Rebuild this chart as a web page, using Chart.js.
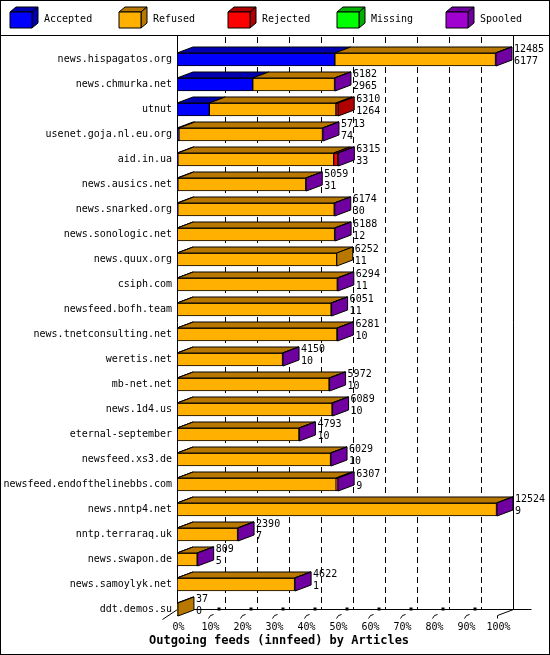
<!DOCTYPE html>
<html><head><meta charset="utf-8">
<script src="https://cdn.jsdelivr.net/npm/chart.js@4"></script>
<style>body{margin:0;background:#fff}#wrap{width:550px;height:655px}</style>
</head><body><div id="wrap"><canvas id="c" width="550" height="655"></canvas></div>
<script>
const feeds = ['news.hispagatos.org','news.chmurka.net','utnut','usenet.goja.nl.eu.org','aid.in.ua','news.ausics.net','news.snarked.org','news.sonologic.net','news.quux.org','csiph.com','newsfeed.bofh.team','news.tnetconsulting.net','weretis.net','mb-net.net','news.1d4.us','eternal-september','newsfeed.xs3.de','newsfeed.endofthelinebbs.com','news.nntp4.net','nntp.terraraq.uk','news.swapon.de','news.samoylyk.net','ddt.demos.su'];
const offered  = [12485,6182,6310,5713,6315,5059,6174,6188,6252,6294,6051,6281,4150,5972,6089,4793,6029,6307,12524,2390,809,4622,37];
const accepted = [6177,2965,1264,74,33,31,30,12,11,11,11,10,10,10,10,10,10,9,9,7,5,1,0];
const refused  = [6288,3200,4956,5620,6100,5010,6124,6156,6241,6263,6020,6251,4120,5942,6059,4763,5999,6218,12495,2363,784,4601,37];
const rejected = [0,0,90,0,160,0,0,0,0,0,0,0,0,0,0,0,0,50,0,0,0,0,0];
const missing  = [0,0,0,0,0,0,0,0,0,0,0,0,0,0,0,0,0,0,0,0,0,0,0];
const spooled  = [20,17,0,19,22,18,20,20,0,20,20,20,20,20,20,20,20,30,20,20,20,20,0];
const xMax = 12524;
const xTicks = [0,10,20,30,40,50,60,70,80,90,100];

const series = [
  {label:'Accepted', data:accepted, front:'#0000ff', dark:'#0000b0'},
  {label:'Refused', data:refused, front:'#ffb000', dark:'#b87800'},
  {label:'Rejected', data:rejected, front:'#ff0000', dark:'#b00000'},
  {label:'Missing', data:missing, front:'#00ff00', dark:'#00b000'},
  {label:'Spooled', data:spooled, front:'#a000d0', dark:'#7000a0'}
];
const DX = 16, DY = 6;
const FONT = '10px "DejaVu Sans Mono", monospace';

function face(ctx, pts, fill) {
  ctx.beginPath();
  ctx.moveTo(pts[0][0], pts[0][1]);
  for (let i = 1; i < pts.length; i++) ctx.lineTo(pts[i][0], pts[i][1]);
  ctx.closePath();
  ctx.fillStyle = fill; ctx.fill();
  ctx.strokeStyle = '#000'; ctx.lineWidth = 1; ctx.stroke();
}

const deco = {
  id: 'deco',
  beforeDatasetsDraw(chart) {
    const ctx = chart.ctx, a = chart.chartArea, x = chart.scales.x;
    ctx.save();
    ctx.strokeStyle = '#000'; ctx.lineWidth = 1;
    // frame + legend divider
    ctx.strokeRect(0.5, 0.5, 549, 654);
    ctx.beginPath(); ctx.moveTo(0, 35.5); ctx.lineTo(550, 35.5); ctx.stroke();
    const l = Math.round(a.left) + 0.5, r = Math.round(a.right) + 0.5;
    const fb = Math.round(a.bottom) - 6.5, bb = fb - DY;   // front / back floor
    // back wall grid
    ctx.setLineDash([6, 4]);
    for (let i = 1; i < 10; i++) {
      const px = Math.round(x.getPixelForValue(xMax * i / 10)) + DX + 0.5;
      ctx.beginPath(); ctx.moveTo(px, 37); ctx.lineTo(px, bb); ctx.stroke();
    }
    ctx.setLineDash([]);
    ctx.beginPath();
    ctx.moveTo(l, 36); ctx.lineTo(l, bb);
    ctx.moveTo(r + DX, 36); ctx.lineTo(r + DX, bb);
    ctx.moveTo(l, bb); ctx.lineTo(r + DX + 18, bb);
    ctx.moveTo(l - 15, fb + 4); ctx.lineTo(l, bb);
    ctx.moveTo(r, fb); ctx.lineTo(r + DX, bb);
    ctx.moveTo(r, fb); ctx.lineTo(r, fb + 3);
    ctx.stroke();
    // floor ticks and x labels
    ctx.fillStyle = '#000'; ctx.font = FONT; ctx.textAlign = 'center'; ctx.textBaseline = 'middle';
    x.ticks.forEach((t, i) => {
      const px = Math.round(x.getPixelForValue(t.value)) + 0.5;
      if (i > 0 && i < 10) {
        ctx.beginPath(); ctx.moveTo(px - 1, fb + 3); ctx.lineTo(px + 1, fb); ctx.lineTo(px + 4, fb - 1); ctx.stroke();
        ctx.fillRect(px + 8, bb - 2, 3, 3);
      }
      ctx.fillText(Math.round(t.value / xMax * 100) + '%', px + 1, fb + 12);
    });
    ctx.restore();
  },
  afterDatasetsDraw(chart) {
    const ctx = chart.ctx;
    ctx.save();
    const n = feeds.length;
    for (let i = 0; i < n; i++) {
      let last = -1, lastEl = null;
      chart.data.datasets.forEach((ds, d) => {
        const el = chart.getDatasetMeta(d).data[i];
        const v = ds.data[i];
        const left = Math.min(el.x, el.base), right = Math.max(el.x, el.base);
        const top = el.y - el.height / 2;
        if (v > 0) {
          face(ctx, [[left, top], [left + DX, top - DY], [right + DX, top - DY], [right, top]], series[d].dark);
          last = d; lastEl = el;
        }
      });
      if (lastEl) {
        const right = Math.max(lastEl.x, lastEl.base), top = lastEl.y - lastEl.height / 2, bot = lastEl.y + lastEl.height / 2;
        face(ctx, [[right, top], [right + DX, top - DY], [right + DX, bot - DY], [right, bot]], series[last].dark);
        ctx.fillStyle = '#000'; ctx.font = FONT; ctx.textBaseline = 'middle'; ctx.textAlign = 'left';
        ctx.fillText(String(offered[i]), right + DX + 2, top - 4);
        ctx.fillText(String(accepted[i]), right + DX + 2, top + 8);
      }
    }
    // legend
    series.forEach((s, k) => {
      const lx = 10 + k * 109, ly = 12;
      face(ctx, [[lx, ly], [lx + 6, ly - 5], [lx + 28, ly - 5], [lx + 22, ly]], s.dark);
      face(ctx, [[lx + 22, ly], [lx + 28, ly - 5], [lx + 28, ly + 11], [lx + 22, ly + 16]], s.dark);
      face(ctx, [[lx, ly], [lx + 22, ly], [lx + 22, ly + 16], [lx, ly + 16]], s.front);
      ctx.fillStyle = '#000'; ctx.font = FONT; ctx.textBaseline = 'middle'; ctx.textAlign = 'left';
      ctx.fillText(s.label, lx + 34, 19);
    });
    ctx.font = 'bold 12px "DejaVu Sans Mono", monospace'; ctx.textAlign = 'left';
    ctx.fillText('Outgoing feeds (innfeed) by Articles', 149, 641);
    ctx.restore();
  }
};

new Chart(document.getElementById('c'), {
  type: 'bar',
  data: {
    labels: feeds,
    datasets: series.map(s => ({
      label: s.label, data: s.data, backgroundColor: s.front,
      borderColor: '#000', borderWidth: 1, borderSkipped: false, barThickness: 13
    }))
  },
  options: {
    indexAxis: 'y', responsive: false, animation: false,
    layout: { padding: { top: 47, right: 53, left: 0, bottom: 0 } },
    plugins: { legend: { display: false }, tooltip: { enabled: false } },
    scales: {
      x: {
        stacked: true, min: 0, max: xMax,
        grid: { display: false }, border: { display: false },
        afterBuildTicks: s => { s.ticks = xTicks.map(p => ({ value: xMax * p / 100 })); },
        afterFit: s => { s.height = 33; },
        ticks: { display: false }
      },
      y: {
        stacked: true,
        grid: { display: false, drawTicks: false }, border: { display: false },
        afterFit: s => { s.width = 177; },
        ticks: { padding: 5, color: '#000', autoSkip: false,
          font: { family: '"DejaVu Sans Mono", monospace', size: 10 } }
      }
    }
  },
  plugins: [deco]
});
</script></body></html>
